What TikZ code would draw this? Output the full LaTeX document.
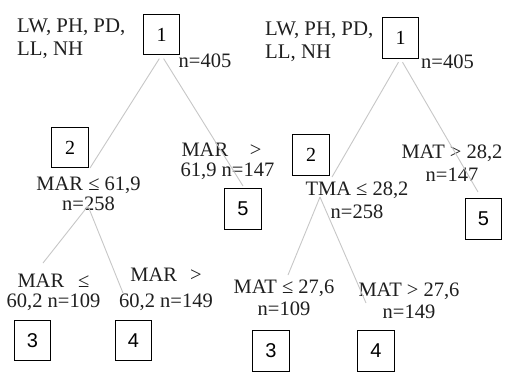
\documentclass[tikz,border=0pt]{standalone}
\usepackage{fontspec}
\setmainfont{Liberation Serif}
\newfontfamily\boxsans{Liberation Sans}
\begin{document}
\begin{tikzpicture}[x=1pt,y=-1pt,
  lbl/.style={inner sep=0pt, align=center, text=black!88},
  numbox/.style={draw=black, line width=0.9pt, inner sep=0pt, minimum width=36.5pt, minimum height=40.5pt, font=\fontsize{20}{22}\selectfont},
  edge/.style={draw=black!22, line width=0.9pt}]
\useasboundingbox[fill=white] (0,0) rectangle (508,372);

% ---------- left tree: nodes ----------
\node[numbox] (b1L) at (161.5,34.5) {1};
\node[numbox] (b2L) at (70,147.5) {2};
\node[numbox] (b5L) at (243,209) {\boxsans 5};
\node[numbox] (b3L) at (32.5,340.5) {\boxsans 3};
\node[numbox] (b4L) at (133.5,340.5) {\boxsans 4};

\node[lbl, align=left, anchor=west, font=\fontsize{20.8}{22.5}\selectfont] (varL) at (17,39) {LW, PH, PD,\\LL, NH};
\node[lbl, font=\fontsize{20.5}{22}\selectfont] (nL1) at (205,61) {n=405};
\node[lbl, font=\fontsize{20.5}{20}\selectfont] (l2L) at (88.5,194) {MAR ≤ 61,9\\n=258};
\node[lbl, font=\fontsize{20.5}{19.5}\selectfont] (l5L) at (227.5,161.5) {\makebox[92pt]{MAR\hfill >\hspace{12pt}}\\61,9 n=147};
\node[lbl, font=\fontsize{20.5}{20}\selectfont] (l3L) at (53.5,292.5) {MAR\hspace{14pt}≤\\60,2 n=109};
\node[lbl, font=\fontsize{20.5}{26}\selectfont] (l4L) at (166,289) {MAR\hspace{13pt}>\\60,2 n=149};

% ---------- right tree: nodes ----------
\node[numbox] (b1R) at (400.5,38) {1};
\node[numbox] (b2R) at (311,155) {2};
\node[numbox] (b5R) at (483.5,219) {\boxsans 5};
\node[numbox] (b3R) at (271,351) {\boxsans 3};
\node[numbox] (b4R) at (376,351) {\boxsans 4};

\node[lbl, align=left, anchor=west, font=\fontsize{20.8}{23}\selectfont] (varR) at (265,42) {LW, PH, PD,\\LL, NH};
\node[lbl, font=\fontsize{20.5}{22}\selectfont] (nR1) at (447.5,62) {n=405};
\node[lbl, font=\fontsize{20.5}{22.5}\selectfont] (l5R) at (452,163) {MAT > 28,2\\n=147};
\node[lbl, font=\fontsize{20.5}{23}\selectfont] (l2R) at (357,200.5) {TMA ≤ 28,2\\n=258};
\node[lbl, font=\fontsize{20.5}{21.5}\selectfont] (l3R) at (284,298) {MAT ≤ 27,6\\n=109};
\node[lbl, font=\fontsize{20.5}{22}\selectfont] (l4R) at (409,301) {MAT > 27,6\\n=149};

% ---------- connector end points ----------
\coordinate (qL2) at (90,168);
\coordinate (qL5) at (243,186);
\coordinate (sL2) at (88,206);
\coordinate (qL3) at (43,263);
\coordinate (qL4) at (123,293);
\coordinate (qR2) at (332,177);
\coordinate (qR5) at (478,192);
\coordinate (sR2) at (320,197);
\coordinate (qR3) at (288,275);
\coordinate (qR4) at (366,303);

% ---------- connectors ----------
\draw[edge, shorten <=4pt] (b1L.south) -- (qL2);
\draw[edge, shorten <=4pt] (b1L.south) -- (qL5);
\draw[edge] (sL2) -- (qL3);
\draw[edge] (sL2) -- (qL4);
\draw[edge, shorten <=4pt] (b1R.south) -- (qR2);
\draw[edge, shorten <=4pt] (b1R.south) -- (qR5);
\draw[edge] (sR2) -- (qR3);
\draw[edge] (sR2) -- (qR4);
\end{tikzpicture}
\end{document}
